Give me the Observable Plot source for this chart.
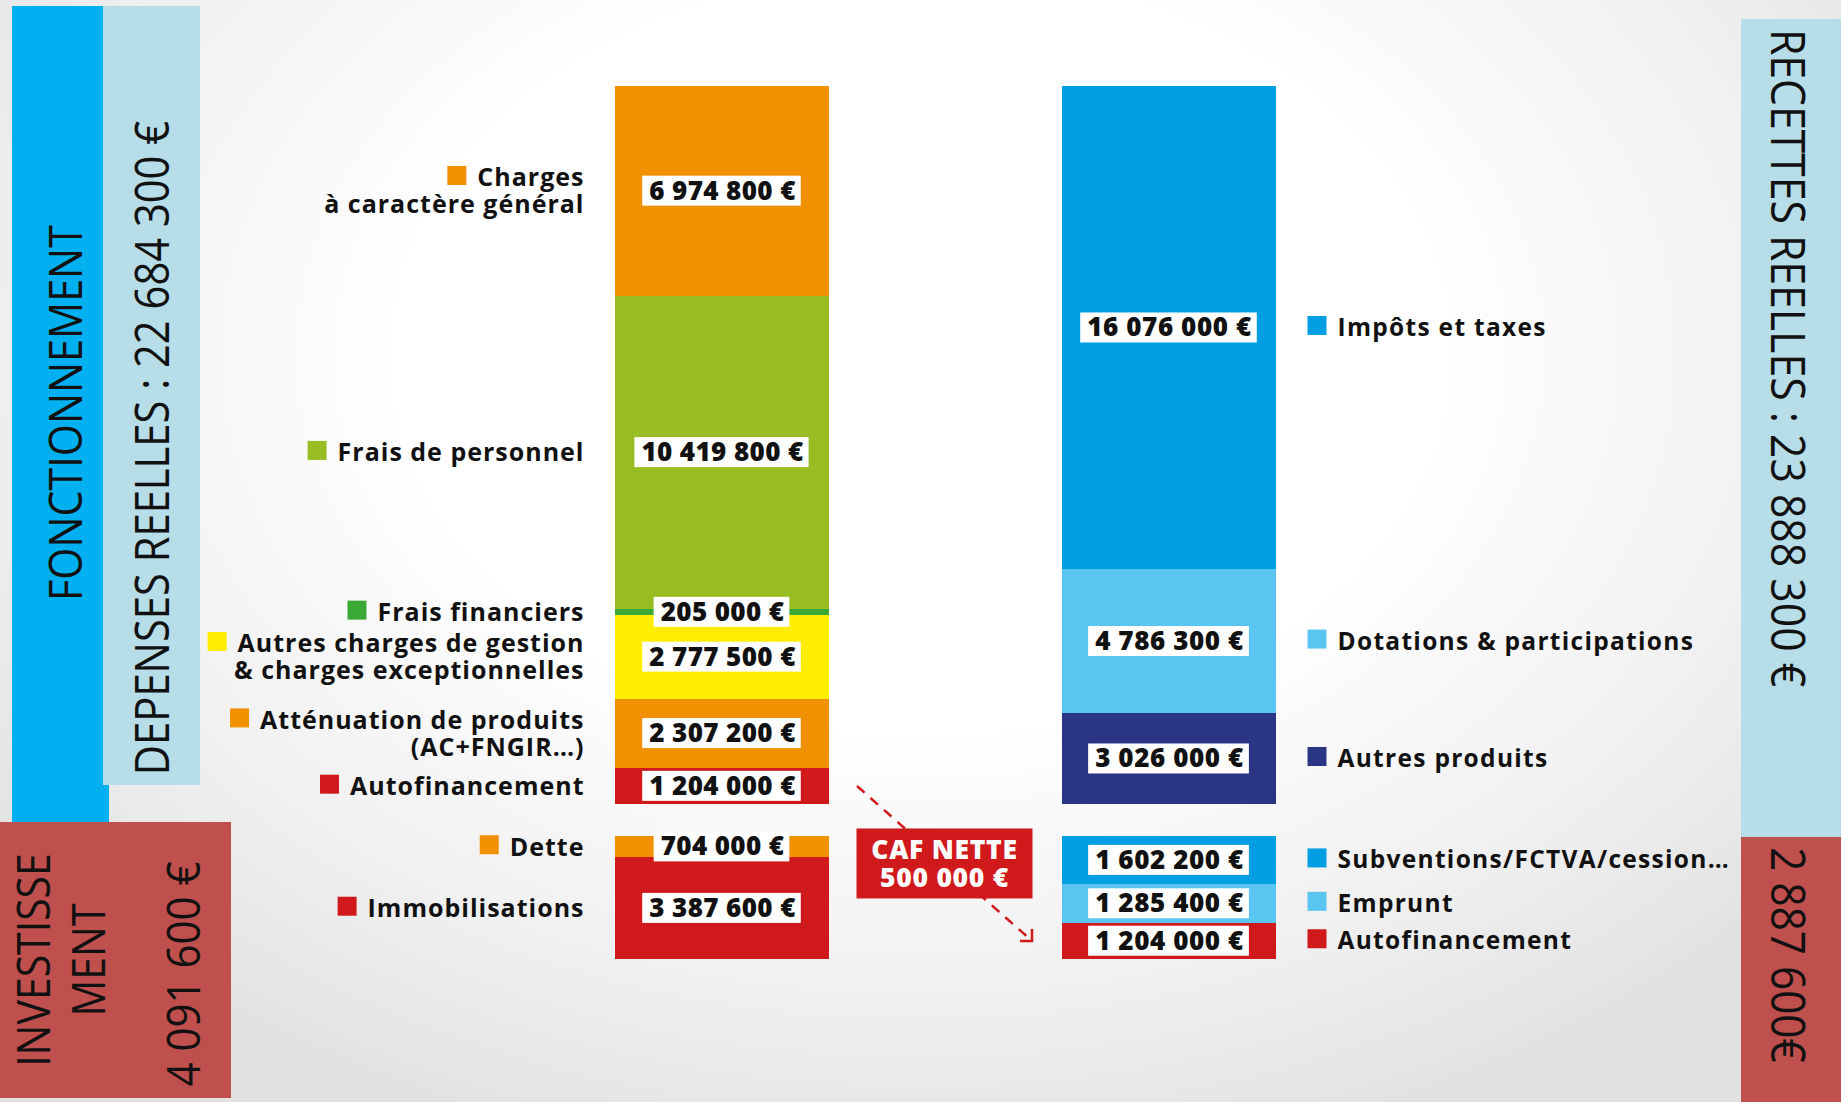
<!DOCTYPE html>
<html><head><meta charset="utf-8">
<script src="https://cdn.jsdelivr.net/npm/d3@7"></script>
<script src="https://cdn.jsdelivr.net/npm/@observablehq/plot@0.6"></script>
<style>
html,body{margin:0;padding:0;}
#page{position:relative;width:1841px;height:1102px;overflow:hidden;
  background:radial-gradient(ellipse 62% 75% at 50% 32%, #ffffff 45%, #efefef 80%, #e2e2e2 100%);}
.band{position:absolute;}
.vt{position:absolute;white-space:pre;text-align:center;color:#111;line-height:1.22;font-family:'Open Sans',sans-serif;}
#chart{position:absolute;left:0;top:0;}
</style></head><body><div id="page"><div id="chart"></div></div>
<script>
// ---------- data ----------
const columns = ["Dépenses", "Recettes"];
const sections = ["Fonctionnement", "Investissement"];

const depFoncLabels = ["Charges\nà caractère général", "Frais de personnel", "Frais financiers",
  "Autres charges de gestion\n& charges exceptionnelles", "Atténuation de produits\n(AC+FNGIR…)", "Autofinancement"];
const depFoncValues = [6974800, 10419800, 205000, 2777500, 2307200, 1204000];
const depInvLabels = ["Dette", "Immobilisations"];
const depInvValues = [704000, 3387600];

const recFoncLabels = ["Impôts et taxes", "Dotations & participations", "Autres produits"];
const recFoncValues = [16076000, 4786300, 3026000];
const recInvLabels = ["Subventions/FCTVA/cession…", "Emprunt", "Autofinancement"];
const recInvValues = [1602200, 1285400, 1204000];

const cafLabel = ["CAF NETTE"];
const cafValue = [500000];

// ---------- palette ----------
const depFoncColors = ["#f29100", "#97bd22", "#3aa935", "#ffed00", "#f29100", "#d0191b"];
const depInvColors = ["#f29100", "#d0191b"];
const recFoncColors = ["#009fe3", "#5bc5f2", "#2a3684"];
const recInvColors = ["#009fe3", "#5bc5f2", "#d0191b"];

// ---------- build table ----------
const fr = d3.formatLocale({decimal: ",", thousands: "\u00a0", grouping: [3], currency: ["", "\u00a0€"]});
const num = fr.format(",");
const euro = v => num(v) + "\u00a0€";

const GAP = 1060000; // vertical spacing between the two sections (in value units)
const foncTotal = Math.max(d3.sum(depFoncValues), d3.sum(recFoncValues));
const rows = [];
function addGroup(column, section, labels, values, colors, offset) {
  let acc = offset;
  labels.forEach((label, i) => {
    rows.push({column, section, label, value: values[i], color: colors[i],
      y1: acc, y2: acc + values[i], valueLabel: euro(values[i])});
    acc += values[i];
  });
}
addGroup("Dépenses", "Fonctionnement", depFoncLabels, depFoncValues, depFoncColors, 0);
addGroup("Dépenses", "Investissement", depInvLabels, depInvValues, depInvColors, foncTotal + GAP);
addGroup("Recettes", "Fonctionnement", recFoncLabels, recFoncValues, recFoncColors, 0);
addGroup("Recettes", "Investissement", recInvLabels, recInvValues, recInvColors, foncTotal + GAP);
const yMax = foncTotal + GAP + Math.max(d3.sum(depInvValues), d3.sum(recInvValues));
const mid = d => (d.y1 + d.y2) / 2;
const left = rows.filter(d => d.column === "Dépenses");
const right = rows.filter(d => d.column === "Recettes");

const LABEL_FONT = "'Open Sans', sans-serif";

const plot = Plot.plot({
  width: 1841, height: 1102,
  marginTop: 86, marginBottom: 143, marginLeft: 614, marginRight: 565,
  x: {domain: columns, paddingInner: 0.5223, paddingOuter: 0, axis: null},
  y: {domain: [0, yMax], reverse: true, axis: null},
  color: {type: "identity"},
  style: {background: "transparent", overflow: "visible", fontFamily: LABEL_FONT},
  marks: [
    Plot.barY(rows, {x: "column", y1: "y1", y2: "y2", fill: "color", shapeRendering: "crispEdges"}),
    Plot.text(left, {x: "column", y: mid, text: "label", textAnchor: "end", dx: -138,
      lineAnchor: "middle", lineHeight: 1.08, fontSize: 25, fontWeight: 700, fill: "#111"}),
    Plot.text(right, {x: "column", y: mid, text: "label", textAnchor: "start", dx: 168,
      lineAnchor: "middle", fontSize: 24.5, fontWeight: 700, fill: "#111"}),
    Plot.text(left, {x: "column", y: mid, text: "valueLabel", lineAnchor: "middle",
      fontSize: 26, fontWeight: 800, fill: "#111"}),
    Plot.text(right, {x: "column", y: mid, text: "valueLabel", lineAnchor: "middle",
      fontSize: 26, fontWeight: 800, fill: "#111"})
  ]
});
document.getElementById("chart").appendChild(plot);

// ---------- post-process: squares, value boxes ----------
const textGroups = plot.querySelectorAll('g[aria-label="text"]');
const [gLeft, gRight, gValL, gValR] = textGroups;
gLeft.style.letterSpacing = "1px";
gRight.style.letterSpacing = "1.3px";
gValL.style.letterSpacing = "0.4px";
gValR.style.letterSpacing = "0.6px";
const NS = "http://www.w3.org/2000/svg";
function squares(g, data, side) {
  g.querySelectorAll("text").forEach((t, i) => {
    const e = t.getExtentOfChar(0);
    const r = document.createElementNS(NS, "rect");
    const s = 19;
    const x = side === "left" ? e.x - 11 - s : e.x - 30;
    r.setAttribute("x", x);
    r.setAttribute("y", e.y + e.height / 2 - s / 2 - 1);
    r.setAttribute("width", s); r.setAttribute("height", s);
    r.setAttribute("fill", data[i].color);
    if (t.getAttribute("transform")) r.setAttribute("transform", t.getAttribute("transform"));
    g.insertBefore(r, t);
  });
}
squares(gLeft, left, "left");
squares(gRight, right, "right");
[gValL, gValR].forEach(g => g.querySelectorAll("text").forEach(t => {
  const b = t.getBBox();
  const r = document.createElementNS(NS, "rect");
  const h = 30;
  r.setAttribute("x", b.x - 7); r.setAttribute("width", b.width + 12);
  r.setAttribute("y", b.y + b.height / 2 - h / 2 + 1); r.setAttribute("height", h);
  r.setAttribute("fill", "#fff");
  if (t.getAttribute("transform")) r.setAttribute("transform", t.getAttribute("transform"));
  g.insertBefore(r, t);
}));

// ---------- CAF annotation, positioned from scales ----------
const xs = plot.scale("x"), ys = plot.scale("y");
const bw = xs.bandwidth;
const autoDep = left.find(d => d.section === "Fonctionnement" && d.label === "Autofinancement");
const autoRec = right.find(d => d.section === "Investissement" && d.label === "Autofinancement");
const sx = xs.apply("Dépenses") + bw + 28, sy = ys.apply(mid(autoDep));
const ex = xs.apply("Recettes") - 30, ey = ys.apply(mid(autoRec));
const svg = d3.select(plot);
const ann = svg.append("g");
const RED = "#d0191b";
ann.append("line").attr("x1", sx).attr("y1", sy).attr("x2", ex).attr("y2", ey)
  .attr("stroke", RED).attr("stroke-width", 2.5).attr("stroke-dasharray", "10,8");
ann.append("path").attr("d", `M${ex - 12},${ey} L${ex},${ey} L${ex},${ey - 12}`)
  .attr("fill", "none").attr("stroke", RED).attr("stroke-width", 2.5);
const cx = (sx + ex) / 2, cy = (sy + ey) / 2;
ann.append("rect").attr("x", cx - 88).attr("y", cy - 35).attr("width", 176).attr("height", 70).attr("fill", RED);
[[cafLabel[0], -14], [euro(cafValue[0]), 14]].forEach(([txt, off]) =>
  ann.append("text").attr("x", cx).attr("y", cy + off).attr("text-anchor", "middle").attr("dy", "0.36em")
    .attr("fill", "#fff").attr("font-size", 26.5).attr("font-weight", 800).attr("font-family", LABEL_FONT)
    .attr("letter-spacing", "0.7px").text(txt));

// ---------- side panels (titles) ----------
const page = document.getElementById("page");
function band(l, t, w, h, c) {
  const d = document.createElement("div"); d.className = "band";
  Object.assign(d.style, {left: l + "px", top: t + "px", width: w + "px", height: h + "px", background: c});
  page.insertBefore(d, page.firstChild);
}
function vtext(cx, cy, rot, text, size, targetLen) {
  const d = document.createElement("div"); d.className = "vt"; d.textContent = text;
  Object.assign(d.style, {left: cx + "px", top: cy + "px", fontSize: size + "px"});
  page.appendChild(d);
  const k = targetLen / d.offsetWidth;
  d.style.transform = `translate(-50%,-50%) rotate(${rot}deg) scaleX(${k})`;
}
// insertion order reversed because of insertBefore(firstChild)
band(1741, 837, 100, 265, "#c0504d");
band(1741, 19, 100, 818, "#b7dde8");
band(0, 822, 231, 276, "#c0504d");
band(103, 6, 97, 779, "#b7dde8");
band(12, 6, 97, 816, "#00b0f0");

const depReelles = d3.sum(depFoncValues) - depFoncValues[depFoncLabels.indexOf("Autofinancement")];
const recReelles = d3.sum(recFoncValues);
const recInvExt = d3.sum(recInvValues) - recInvValues[recInvLabels.indexOf("Autofinancement")];
vtext(64, 413, -90, sections[0].toUpperCase(), 46, 376);
vtext(152, 448, -90, "DEPENSES REELLES : " + euro(depReelles), 47, 654);
vtext(1788, 358, 90, "RECETTES REELLES : " + euro(recReelles), 47, 658);
vtext(1788, 955, 90, num(recInvExt) + "€", 47, 215);
vtext(61, 960, -90, "INVESTISSE\nMENT", 45, 214);
vtext(183, 974, -90, euro(d3.sum(depInvValues)), 45, 225);
</script></body></html>
